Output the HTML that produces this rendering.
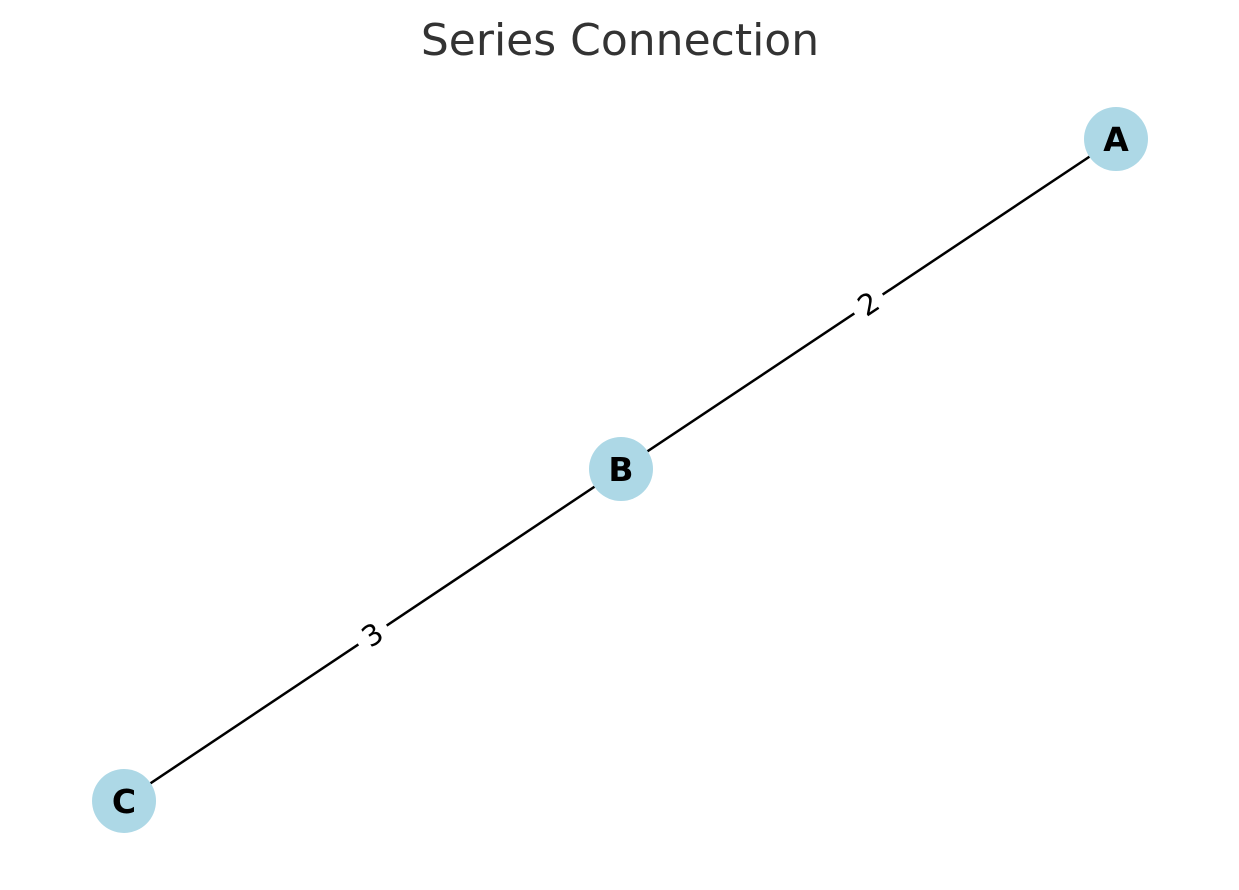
<!DOCTYPE html>
<html><head><meta charset="utf-8"><style>
body{margin:0;background:#fff;}
svg{display:block;font-family:"DejaVu Sans","Liberation Sans",sans-serif;}
</style></head><body>
<svg id="chart" width="1239" height="890">
<text x="620" y="55" text-anchor="middle" font-size="44" fill="#333">Series Connection</text>
<g id="edges"></g>
<g id="labels"></g>
<g id="nodes"></g>
</svg>
<script>
const nodeNames = ["A", "B", "C"];
const nodeX = [1, 0, -1.004];
const nodeY = [1, 0, -1.006];
const edgeFrom = ["A", "B"];
const edgeTo = ["B", "C"];
const edgeWeights = ["2", "3"];

const NS = "http://www.w3.org/2000/svg";
function sx(v){ return 621 + v * 495; }
function sy(v){ return 469 - v * 330; }
function idx(n){ return nodeNames.indexOf(n); }

const eg = document.getElementById('edges');
const lg = document.getElementById('labels');
const ng = document.getElementById('nodes');

edgeFrom.forEach((f, i) => {
  const a = idx(f), b = idx(edgeTo[i]);
  const x1 = sx(nodeX[a]), y1 = sy(nodeY[a]), x2 = sx(nodeX[b]), y2 = sy(nodeY[b]);
  const ln = document.createElementNS(NS, 'line');
  ln.setAttribute('x1', x1); ln.setAttribute('y1', y1);
  ln.setAttribute('x2', x2); ln.setAttribute('y2', y2);
  ln.setAttribute('stroke', '#000'); ln.setAttribute('stroke-width', '2.5');
  
  
  eg.appendChild(ln);
  const mx = (x1 + x2) / 2, my = (y1 + y2) / 2;
  let ang = Math.atan2(y2 - y1, x2 - x1) * 180 / Math.PI;
  if (ang > 90) ang -= 180; if (ang < -90) ang += 180;
  const g = document.createElementNS(NS, 'g');
  g.setAttribute('transform', `translate(${mx},${my}) rotate(${ang})`);
  
  
  const r = document.createElementNS(NS, 'rect');
  r.setAttribute('x', -17); r.setAttribute('y', -19); r.setAttribute('width', 34); r.setAttribute('height', 38);
  r.setAttribute('fill', '#fff');
  g.appendChild(r);
  const t = document.createElementNS(NS, 'text');
  t.setAttribute('text-anchor', 'middle'); t.setAttribute('y', 10);
  t.setAttribute('font-size', '29'); t.setAttribute('fill', '#000');
  t.textContent = edgeWeights[i];
  g.appendChild(t);
  lg.appendChild(g);
});

nodeNames.forEach((n, i) => {
  const g = document.createElementNS(NS, 'g');
  
  
  const c = document.createElementNS(NS, 'circle');
  c.setAttribute('cx', sx(nodeX[i])); c.setAttribute('cy', sy(nodeY[i]));
  c.setAttribute('r', 32); c.setAttribute('fill', '#add8e6');
  g.appendChild(c);
  const t = document.createElementNS(NS, 'text');
  t.setAttribute('x', sx(nodeX[i])); t.setAttribute('y', sy(nodeY[i]) + 12);
  t.setAttribute('text-anchor', 'middle'); t.setAttribute('font-size', '33');
  t.setAttribute('font-weight', 'bold'); t.setAttribute('fill', '#000');
  t.textContent = n;
  g.appendChild(t);
  ng.appendChild(g);
});
</script>
</body></html>
